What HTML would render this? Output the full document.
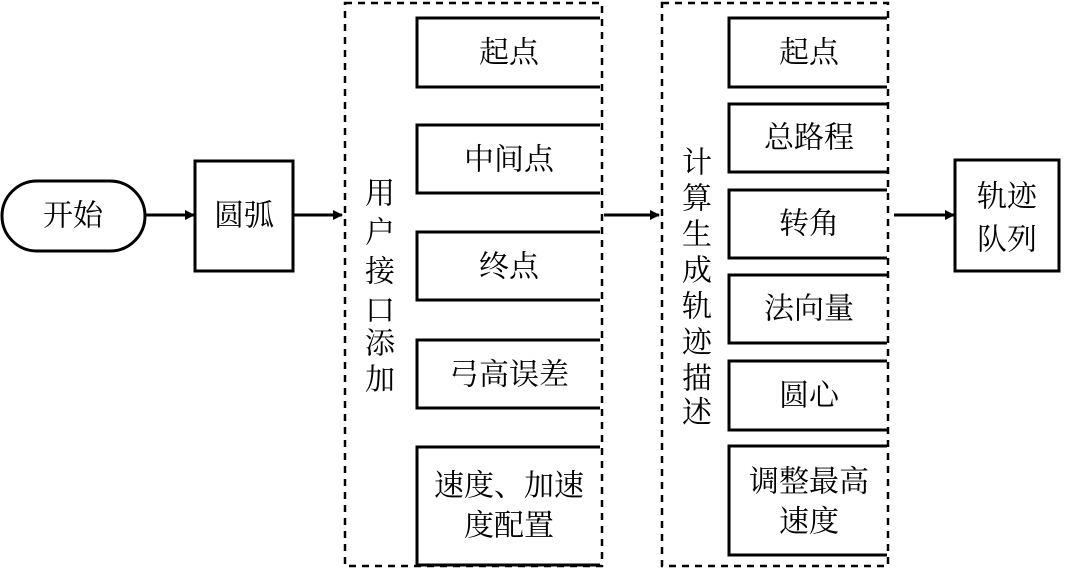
<!DOCTYPE html>
<html><head><meta charset="utf-8"><style>
body{margin:0;width:1080px;height:574px;background:#fff;overflow:hidden}
svg text{font-family:"Liberation Serif","Noto Serif CJK SC",serif;font-size:30px;fill:#000;text-anchor:middle;dominant-baseline:central}
</style></head><body>
<svg width="1080" height="574" xmlns="http://www.w3.org/2000/svg">
<defs><marker id="a" markerWidth="10" markerHeight="10" refX="9" refY="5" orient="auto" markerUnits="userSpaceOnUse"><path d="M0,0 L10,5 L0,10 Z" fill="#000"/></marker></defs>
<g fill="none" stroke="#000" stroke-width="3">
<rect x="2" y="181" width="143" height="70" rx="35"/>
<rect x="195" y="161" width="98" height="110"/>
<rect x="955" y="160" width="104" height="111"/>
<rect x="345" y="3" width="257" height="563" stroke-dasharray="7,6" stroke-width="2.5"/>
<rect x="662" y="3" width="226" height="563" stroke-dasharray="7,6" stroke-width="2.5"/>
<path d="M600,18 H417 V87 H600"/>
<path d="M600,125 H417 V193 H600"/>
<path d="M600,232 H417 V300 H600"/>
<path d="M600,340 H417 V408 H600"/>
<path d="M600,447 H417 V565 H600"/>
<path d="M887,18 H729 V87 H887"/>
<path d="M887,104 H729 V172 H887"/>
<path d="M887,190 H729 V258 H887"/>
<path d="M887,275 H729 V343 H887"/>
<path d="M887,361 H729 V430 H887"/>
<path d="M887,446 H729 V555 H887"/>
<path d="M146,215 H194" marker-end="url(#a)"/>
<path d="M294,215 H342" marker-end="url(#a)"/>
<path d="M604,215 H659" marker-end="url(#a)"/>
<path d="M894,215 H954" marker-end="url(#a)"/>
</g>
<text x="73" y="216">开始</text>
<text x="244" y="216">圆弧</text>
<text x="1007" y="197">轨迹</text>
<text x="1007" y="240">队列</text>
<g>
<text x="380" y="194">用</text><text x="380" y="233">户</text><text x="380" y="272">接</text><text x="380" y="311">口</text><text x="380" y="344">添</text><text x="380" y="380">加</text>
<text x="697" y="163">计</text><text x="697" y="199">算</text><text x="697" y="235">生</text><text x="697" y="271">成</text><text x="697" y="307">轨</text><text x="697" y="343">迹</text><text x="697" y="379">描</text><text x="697" y="413">述</text>
</g>
<text x="509" y="53">起点</text>
<text x="509" y="160">中间点</text>
<text x="509" y="267">终点</text>
<text x="509" y="375">弓高误差</text>
<text x="509" y="486">速度、加速</text>
<text x="509" y="526">度配置</text>
<text x="809" y="53">起点</text>
<text x="809" y="138">总路程</text>
<text x="809" y="224">转角</text>
<text x="809" y="309">法向量</text>
<text x="809" y="396">圆心</text>
<text x="809" y="482">调整最高</text>
<text x="809" y="522">速度</text>
</svg>
</body></html>
